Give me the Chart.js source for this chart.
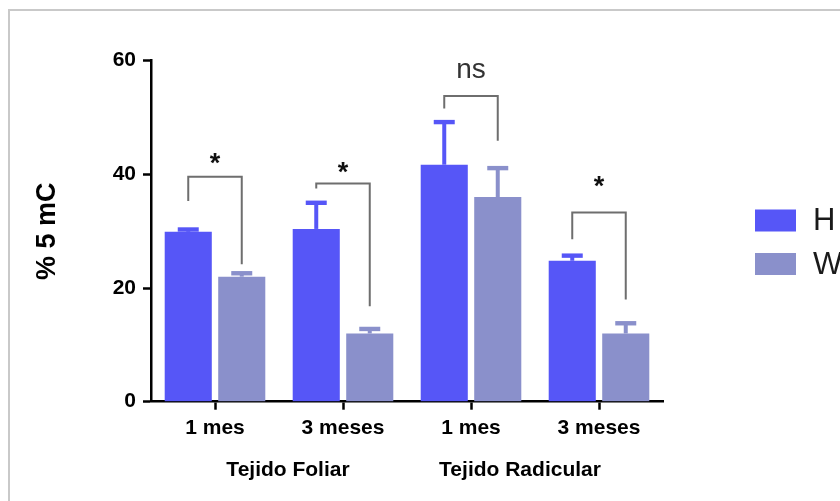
<!DOCTYPE html>
<html>
<head>
<meta charset="utf-8">
<script src="https://cdn.jsdelivr.net/npm/chart.js@4.4.1/dist/chart.umd.min.js"></script>
<style>
  html, body { margin: 0; padding: 0; background: #ffffff; overflow: hidden; }
  #wrap { position: relative; width: 840px; height: 501px; overflow: hidden; }
  #frame { position: absolute; left: 8px; top: 9px; width: 2000px; height: 2000px;
           border-top: 2px solid #c9c9c9; border-left: 2px solid #c9c9c9; }
  canvas { position: absolute; left: 0; top: 0; }
</style>
</head>
<body>
<div id="wrap">
  <div id="frame"></div>
  <canvas id="c" width="840" height="501"></canvas>
</div>
<script>
// ---- data ----
const categories = ['1 mes', '3 meses', '1 mes', '3 meses'];
const groupLabels = ['Tejido Foliar', 'Tejido Radicular'];
const seriesNames = ['H', 'W'];
const hMeans = [29.9, 30.4, 41.7, 24.8];
const wMeans = [22.0, 12.0, 36.0, 12.0];
const hSem = [0.4, 4.6, 7.5, 0.9];
const wSem = [0.6, 0.8, 5.1, 1.8];
const yTicks = [0, 20, 40, 60];
// significance brackets (values in % 5 mC units)
const sigLabels = ['*', '*', 'ns', '*'];
const bracketTop = [39.6, 38.4, 53.8, 33.3];
const bracketLeftEnd = [35.3, 37.5, 51.6, 28.6];
const bracketRightEnd = [24.2, 16.8, 45.9, 18.0];
const sigTextBase = [40.4, 38.9, 56.9, 36.4];

const colH = '#5656F7';
const colW = '#8A90CB';
const FONT = '"Liberation Sans", Arial, sans-serif';

const errorBars = {
  id: 'errorBars',
  afterDatasetsDraw(chart) {
    const ctx = chart.ctx, y = chart.scales.y;
    const sems = [hSem, wSem];
    chart.data.datasets.forEach((ds, di) => {
      const meta = chart.getDatasetMeta(di);
      meta.data.forEach((bar, i) => {
        const top = y.getPixelForValue(ds.data[i] + sems[di][i]);
        const base = y.getPixelForValue(ds.data[i]);
        ctx.save();
        ctx.strokeStyle = ds.backgroundColor;
        ctx.lineWidth = 4;
        ctx.beginPath();
        ctx.moveTo(bar.x, base);
        ctx.lineTo(bar.x, top);
        ctx.stroke();
        ctx.lineWidth = 4.4;
        ctx.beginPath();
        ctx.moveTo(bar.x - 10.5, top);
        ctx.lineTo(bar.x + 10.5, top);
        ctx.stroke();
        ctx.restore();
      });
    });
  }
};

const annotations = {
  id: 'annotations',
  afterDraw(chart) {
    const ctx = chart.ctx, y = chart.scales.y, x = chart.scales.x;
    const mH = chart.getDatasetMeta(0), mW = chart.getDatasetMeta(1);
    ctx.save();
    // brackets
    for (let i = 0; i < categories.length; i++) {
      const xl = mH.data[i].x, xr = mW.data[i].x;
      ctx.strokeStyle = '#6e6e6e';
      ctx.lineWidth = 2;
      ctx.beginPath();
      ctx.moveTo(xl, y.getPixelForValue(bracketLeftEnd[i]));
      ctx.lineTo(xl, y.getPixelForValue(bracketTop[i]));
      ctx.lineTo(xr, y.getPixelForValue(bracketTop[i]));
      ctx.lineTo(xr, y.getPixelForValue(bracketRightEnd[i]));
      ctx.stroke();
      const isNs = sigLabels[i] === 'ns';
      ctx.fillStyle = isNs ? '#333333' : '#111111';
      ctx.font = isNs ? ('28px ' + FONT) : ('bold 27px ' + FONT);
      ctx.textAlign = 'center';
      ctx.textBaseline = 'alphabetic';
      ctx.fillText(sigLabels[i], (xl + xr) / 2, y.getPixelForValue(sigTextBase[i]));
    }
    // group labels
    ctx.fillStyle = '#000000';
    ctx.font = 'bold 21px ' + FONT;
    ctx.textAlign = 'center';
    ctx.textBaseline = 'middle';
    const gy = chart.chartArea.bottom + 69;
    const g1 = (x.getPixelForValue(0) + x.getPixelForValue(1)) / 2 + 9;
    const g2 = (x.getPixelForValue(2) + x.getPixelForValue(3)) / 2 - 15;
    ctx.fillText(groupLabels[0], g1, gy);
    ctx.fillText(groupLabels[1], g2, gy);
    // legend
    const lx = chart.chartArea.right + 92;
    const cols = [colH, colW];
    const ly = [220.5, 264];
    ctx.font = '31px ' + FONT;
    ctx.textAlign = 'left';
    seriesNames.forEach((n, k) => {
      ctx.fillStyle = cols[k];
      ctx.fillRect(lx, ly[k] - 11, 41, 22);
      ctx.fillStyle = '#1a1a1a';
      ctx.fillText(n, lx + 58, ly[k] + 1);
    });
    ctx.restore();
  }
};

new Chart(document.getElementById('c'), {
  type: 'bar',
  data: {
    labels: categories,
    datasets: [
      { label: seriesNames[0], data: hMeans, backgroundColor: colH, borderWidth: 0,
        categoryPercentage: 0.836, barPercentage: 0.88 },
      { label: seriesNames[1], data: wMeans, backgroundColor: colW, borderWidth: 0,
        categoryPercentage: 0.836, barPercentage: 0.88 }
    ]
  },
  options: {
    responsive: false,
    animation: false,
    devicePixelRatio: 1,
    layout: { padding: { left: 0, top: 60.7, right: 177, bottom: 0 } },
    plugins: { legend: { display: false }, tooltip: { enabled: false } },
    scales: {
      x: {
        offset: true,
        grid: { display: true, drawOnChartArea: false, offset: false, tickLength: 8,
                tickWidth: 2.5, tickColor: '#000' },
        border: { display: true, color: '#000', width: 2.5 },
        ticks: { color: '#000', font: { family: FONT, size: 21, weight: 'bold' }, padding: 6,
                 maxRotation: 0, autoSkip: false },
        afterFit(s) { s.height = 99.3; }
      },
      y: {
        min: 0, max: 60,
        afterBuildTicks(s) { s.ticks = yTicks.map(v => ({ value: v })); },
        grid: { display: true, drawOnChartArea: false, tickLength: 8, tickWidth: 2.5, tickColor: '#000' },
        border: { display: true, color: '#000', width: 2.5 },
        ticks: { color: '#000', font: { family: FONT, size: 21, weight: 'bold' }, padding: 7 },
        title: { display: true, text: '% 5 mC', color: '#000',
                 font: { family: FONT, size: 27, weight: 'bold' }, padding: { top: 31, bottom: 0 } },
        afterFit(s) { s.width = 151; }
      }
    }
  },
  plugins: [errorBars, annotations]
});
</script>
</body>
</html>
